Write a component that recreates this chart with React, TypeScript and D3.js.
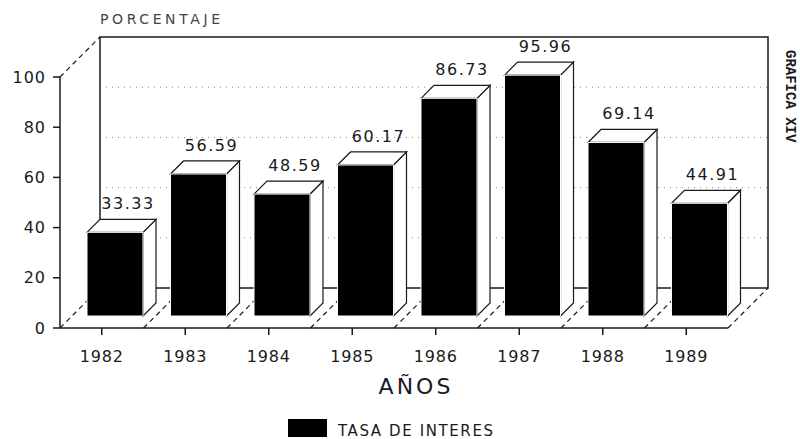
import React from "react";
import * as d3 from "d3";

const years = ["1982", "1983", "1984", "1985", "1986", "1987", "1988", "1989"];
const values = [33.33, 56.59, 48.59, 60.17, 86.73, 95.96, 69.14, 44.91];
const valueLabels = ["33.33", "56.59", "48.59", "60.17", "86.73", "95.96", "69.14", "44.91"];
const yTicks = [0, 20, 40, 60, 80, 100];
const gridValues = [20, 40, 60, 80];

const W = 800;
const H = 439;
const DEPTH = 40;
const BAR_FRONT = 12;
const BAR_DEPTH = 13;
const FONT = "'DejaVu Sans', sans-serif";
const INK = "#1a1a1a";

export default function App() {
  const y = d3.scaleLinear().domain([0, 100]).range([328, 77]);
  const x = d3.scaleBand<string>().domain(years).range([60, 728]).padding(0);
  const bw = x.bandwidth();
  const x0 = 60;
  const x1 = 728;
  const y0 = y(0);
  const yTop = y(100);

  return (
    <svg
      width={W}
      height={H}
      style={{ position: "absolute", left: 0, top: 0, background: "#fff" }}
    >
      {/* back wall grid */}
      {gridValues.map((v) => (
        <line
          key={"g" + v}
          x1={x0 + DEPTH}
          x2={x1 + DEPTH}
          y1={y(v) - DEPTH}
          y2={y(v) - DEPTH}
          stroke="#888"
          strokeWidth={1}
          strokeDasharray="1 5"
        />
      ))}
      {/* back wall */}
      <rect
        x={x0 + DEPTH}
        y={yTop - DEPTH}
        width={x1 - x0}
        height={y0 - yTop}
        fill="none"
        stroke={INK}
        strokeWidth={1.5}
      />
      {/* left wall top diagonal */}
      <line x1={x0} y1={yTop} x2={x0 + DEPTH} y2={yTop - DEPTH} stroke={INK} strokeWidth={1.2} strokeDasharray="5 4" />
      {/* floor diagonals */}
      {d3.range(years.length + 1).map((i) => {
        const bx = x0 + i * bw;
        return (
          <line
            key={"fd" + i}
            x1={bx}
            y1={y0}
            x2={bx + DEPTH}
            y2={y0 - DEPTH}
            stroke={INK}
            strokeWidth={1.2}
            strokeDasharray="5 4"
          />
        );
      })}
      {/* bars */}
      {years.map((yr, i) => {
        const fx0 = (x(yr) as number) + 15 + BAR_FRONT;
        const fx1 = fx0 + 56;
        const fyTop = y(values[i]) - BAR_FRONT;
        const fyBot = y0 - BAR_FRONT;
        const d = BAR_DEPTH;
        const top = [
          [fx0, fyTop],
          [fx0 + d, fyTop - d],
          [fx1 + d, fyTop - d],
          [fx1, fyTop],
        ];
        const side = [
          [fx1, fyTop],
          [fx1 + d, fyTop - d],
          [fx1 + d, fyBot - d],
          [fx1, fyBot],
        ];
        const line = d3.line();
        return (
          <g key={yr}>
            <path d={line(side as [number, number][]) + "Z"} fill="#fff" stroke={INK} strokeWidth={1.2} />
            <path d={line(top as [number, number][]) + "Z"} fill="#fff" stroke={INK} strokeWidth={1.2} />
            <rect x={fx0} y={fyTop} width={fx1 - fx0} height={fyBot - fyTop} fill="#000" stroke="#fff" strokeWidth={1} />
            <text
              x={(fx0 + fx1) / 2 + d}
              y={fyTop - d - 10}
              textAnchor="middle"
              fontFamily={FONT}
              fontSize={16}
              letterSpacing={1.5}
              fill={INK}
            >
              {valueLabels[i]}
            </text>
          </g>
        );
      })}
      {/* floor front and right diagonal */}
      <line x1={x0} y1={y0} x2={x1} y2={y0} stroke={INK} strokeWidth={1.5} />
      {/* y axis */}
      <line x1={x0} y1={yTop} x2={x0} y2={y0} stroke={INK} strokeWidth={1.5} />
      {yTicks.map((t) => (
        <g key={"t" + t}>
          <line x1={x0 - 7} x2={x0} y1={y(t)} y2={y(t)} stroke={INK} strokeWidth={1.5} />
          <text
            x={x0 - 14}
            y={y(t)}
            dy="0.35em"
            textAnchor="end"
            fontFamily={FONT}
            fontSize={16}
            letterSpacing={1}
            fill={INK}
          >
            {t}
          </text>
        </g>
      ))}
      {/* x ticks */}
      {years.map((yr) => {
        const cx = (x(yr) as number) + bw / 2;
        return (
          <g key={"x" + yr}>
            <line x1={cx} x2={cx} y1={y0} y2={y0 + 7} stroke={INK} strokeWidth={1.5} />
            <text x={cx} y={362} textAnchor="middle" fontFamily={FONT} fontSize={16} letterSpacing={0.8} fill={INK}>
              {yr}
            </text>
          </g>
        );
      })}
      {/* titles */}
      <text x={100} y={24} fontFamily={FONT} fontSize={14} letterSpacing={3.6} fill="#444">
        PORCENTAJE
      </text>
      <text x={416} y={394} textAnchor="middle" fontFamily={FONT} fontSize={22} letterSpacing={3} fill={INK}>
        AÑOS
      </text>
      <text
        transform="translate(786,50) rotate(90)"
        fontFamily="'Liberation Mono', 'DejaVu Sans Mono', monospace"
        fontWeight="bold"
        fontSize={14}
        fill={INK}
      >
        GRAFICA XIV
      </text>
      {/* legend */}
      <rect x={288} y={419} width={39} height={18} fill="#000" />
      <text x={338} y={436} fontFamily={FONT} fontSize={15} letterSpacing={1.6} fill={INK}>
        TASA DE INTERES
      </text>
    </svg>
  );
}
